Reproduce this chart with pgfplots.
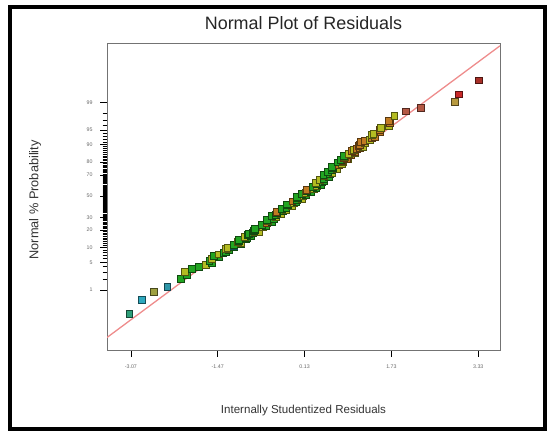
\documentclass[border=0pt]{standalone}
\usepackage{fontspec}
\setmainfont{Liberation Sans}
\usepackage{pgfplots}
\pgfplotsset{compat=1.18}
\definecolor{cg}{HTML}{22A422}
\definecolor{cy}{HTML}{B4BC22}
\definecolor{cc}{HTML}{2EA8BE}
\definecolor{co}{HTML}{C07A22}
\definecolor{ct}{HTML}{2E9E78}
\definecolor{cl}{HTML}{9EA040}
\definecolor{cq}{HTML}{2E96A8}
\definecolor{cb}{HTML}{B45844}
\definecolor{ck}{HTML}{B89A40}
\definecolor{cr}{HTML}{C82828}
\definecolor{cd}{HTML}{A83028}
\definecolor{refline}{RGB}{238,140,140}
\begin{document}
\begin{tikzpicture}[x=1bp,y=1bp]
\useasboundingbox (0,0) rectangle (553,435);
\draw[line width=3.5bp] (10,6) rectangle (545,428);
\begin{axis}[
  at={(107bp,85bp)}, anchor=south west,
  scale only axis, width=393bp, height=307bp,
  xmin=-3.51, xmax=3.73, ymin=-3.82, ymax=3.80,
  axis line style={black!55, line width=0.8bp},
  tick align=outside, xtick pos=bottom, ytick pos=left,
  major tick length=7bp, minor tick length=4.5bp,
  tick style={black, line width=0.6bp},
  /pgf/number format/assume math mode=true,
  xtick={-3.07,-1.47,0.13,1.73,3.33},
  xticklabels={-3.07,-1.47,0.13,1.73,3.33},
  ytick={-2.326,-1.645,-1.282,-0.842,-0.524,0,0.524,0.842,1.282,1.645,2.326},
  yticklabels={1,5,10,20,30,50,70,80,90,95,99},
  minor ytick={-2.326,-2.054,-1.881,-1.751,-1.645,-1.555,-1.476,-1.405,-1.341,-1.282,-1.227,-1.175,-1.126,-1.080,-1.036,-0.994,-0.954,-0.915,-0.878,-0.842,-0.806,-0.772,-0.739,-0.706,-0.674,-0.643,-0.613,-0.583,-0.553,-0.524,-0.496,-0.468,-0.440,-0.412,-0.385,-0.358,-0.332,-0.305,-0.279,-0.253,-0.228,-0.202,-0.176,-0.151,-0.126,-0.100,-0.075,-0.050,-0.025,0,0.025,0.050,0.075,0.100,0.126,0.151,0.176,0.202,0.228,0.253,0.279,0.305,0.332,0.358,0.385,0.412,0.440,0.468,0.496,0.524,0.553,0.583,0.613,0.643,0.674,0.706,0.739,0.772,0.806,0.842,0.878,0.915,0.954,0.994,1.036,1.080,1.126,1.175,1.227,1.282,1.341,1.405,1.476,1.555,1.645,1.751,1.881,2.054,2.326},
  ticklabel style={font=\fontsize{5.3}{6}\selectfont, text=black!60},
  xticklabel style={yshift=-4bp},
  yticklabel style={xshift=-4bp},
  title={Normal Plot of Residuals},
  title style={at={(axis description cs:0.5,1.026)}, anchor=base, font=\fontsize{18}{20}\selectfont, text=black!85},
  xlabel={Internally Studentized Residuals},
  xlabel style={at={(axis description cs:0.5,-0.208)}, anchor=base, font=\fontsize{11.6}{14}\selectfont, text=black!80},
  ylabel={Normal \% Probability},
  ylabel style={at={(axis description cs:-0.183,0.489)}, anchor=center, rotate=0, font=\fontsize{12.8}{15}\selectfont, text=black!80},
  clip=true,
]
\addplot[refline, line width=1.3bp] coordinates {(-3.51,-3.51) (3.73,3.73)};
\addplot[scatter, only marks, mark=square*, mark size=3.4bp,
  scatter src=explicit symbolic,
  scatter/classes={
    g={mark=square*, fill=cg, draw=cg!45!black},
    y={mark=square*, fill=cy, draw=cy!45!black},
    c={mark=square*, fill=cc, draw=cc!45!black},
    o={mark=square*, fill=co, draw=co!45!black},
    t={mark=square*, fill=ct, draw=ct!45!black},
    l={mark=square*, fill=cl, draw=cl!45!black},
    q={mark=square*, fill=cq, draw=cq!45!black},
    b={mark=square*, fill=cb, draw=cb!45!black},
    k={mark=square*, fill=ck, draw=ck!45!black},
    r={mark=square*, fill=cr, draw=cr!45!black},
    d={mark=square*, fill=cd, draw=cd!45!black}},
] table[meta=c] {
x y c
-3.101 -2.928 t
-2.873 -2.563 c
-2.646 -2.375 l
-2.401 -2.251 q
-2.157 -2.054 g
-2.044 -1.960 g
-2.072 -1.881 y
-1.957 -1.812 g
-1.821 -1.751 g
-1.686 -1.695 y
-1.575 -1.645 g
-1.628 -1.598 g
-1.579 -1.555 y
-1.458 -1.514 g
-1.543 -1.476 g
-1.458 -1.440 y
-1.371 -1.405 g
-1.330 -1.372 g
-1.271 -1.341 g
-1.324 -1.311 y
-1.297 -1.282 y
-1.174 -1.254 g
-1.182 -1.227 c
-1.181 -1.200 g
-1.052 -1.175 g
-1.043 -1.150 y
-1.096 -1.126 y
-1.080 -1.103 g
-1.085 -1.080 g
-0.961 -1.058 g
-0.936 -1.036 g
-0.973 -1.015 y
-0.870 -0.994 y
-0.858 -0.974 g
-0.926 -0.954 g
-0.895 -0.935 g
-0.833 -0.915 g
-0.782 -0.896 y
-0.722 -0.878 y
-0.802 -0.860 g
-0.782 -0.842 g
-0.784 -0.806 g
-0.648 -0.772 y
-0.593 -0.739 g
-0.658 -0.706 g
-0.574 -0.674 o
-0.479 -0.643 g
-0.554 -0.613 y
-0.568 -0.583 g
-0.443 -0.553 g
-0.399 -0.524 y
-0.476 -0.496 g
-0.402 -0.468 g
-0.308 -0.440 y
-0.381 -0.412 g
-0.392 -0.385 o
-0.264 -0.358 g
-0.216 -0.332 y
-0.287 -0.305 g
-0.210 -0.279 g
-0.112 -0.253 y
-0.186 -0.228 g
-0.198 -0.202 g
-0.071 -0.176 y
-0.024 -0.151 g
-0.098 -0.126 o
-0.020 -0.100 g
0.074 -0.075 y
-0.002 -0.050 g
-0.019 -0.025 g
0.105 0.000 y
0.149 0.025 g
0.073 0.050 g
0.147 0.075 y
0.240 0.100 g
0.170 0.126 g
0.161 0.151 o
0.293 0.176 y
0.345 0.202 g
0.278 0.228 g
0.347 0.253 y
0.435 0.279 g
0.354 0.305 g
0.334 0.332 y
0.453 0.358 g
0.492 0.385 g
0.412 0.412 y
0.482 0.440 g
0.572 0.468 g
0.493 0.496 y
0.474 0.524 g
0.595 0.553 g
0.638 0.583 y
0.561 0.613 g
0.633 0.643 g
0.727 0.674 y
0.651 0.706 g
0.636 0.739 g
0.762 0.772 o
0.811 0.806 y
0.742 0.842 g
0.837 0.860 y
0.823 0.878 o
0.798 0.896 g
0.924 0.915 y
0.911 0.935 o
0.857 0.954 o
0.875 0.974 y
0.853 0.994 g
0.982 1.015 o
0.990 1.036 o
0.940 1.058 y
1.050 1.080 y
1.051 1.103 o
0.991 1.126 o
1.033 1.150 y
1.085 1.175 o
1.148 1.200 o
1.203 1.227 y
1.117 1.254 o
1.152 1.282 o
1.239 1.311 y
1.166 1.341 o
1.234 1.372 o
1.325 1.405 y
1.370 1.440 o
1.416 1.476 o
1.364 1.514 y
1.395 1.555 y
1.522 1.598 o
1.521 1.645 o
1.533 1.695 y
1.679 1.751 y
1.691 1.812 o
1.680 1.881 o
1.780 1.990 y
1.994 2.109 b
2.270 2.191 b
2.889 2.340 k
2.963 2.531 r
3.332 2.878 d
};
\end{axis}
\end{tikzpicture}
\end{document}
